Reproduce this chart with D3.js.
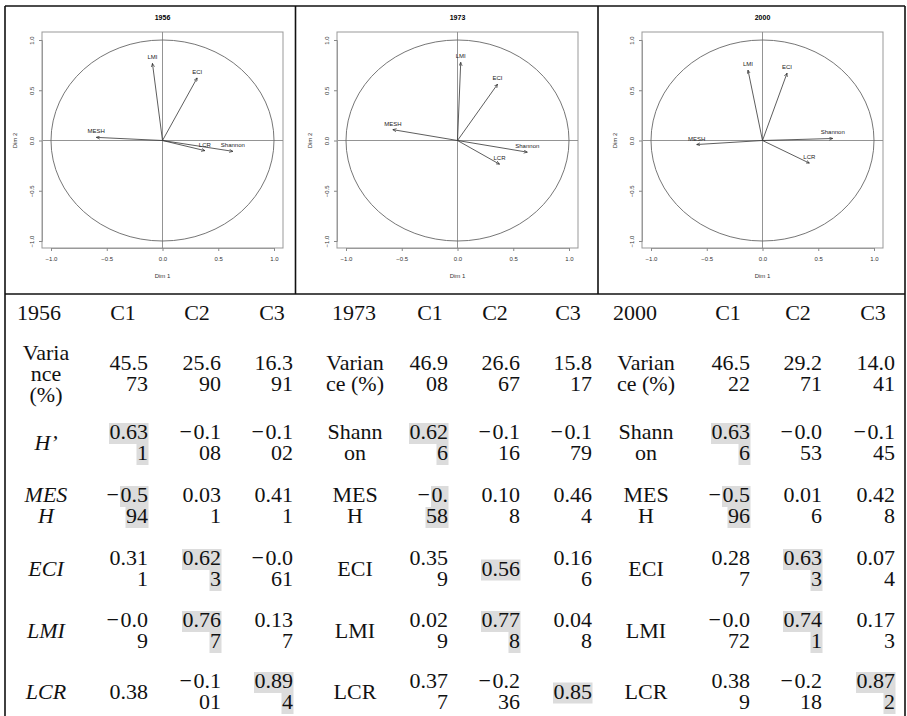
<!DOCTYPE html>
<html>
<head>
<meta charset="utf-8">
<script src="https://cdn.jsdelivr.net/npm/d3@7"></script>
<style>
body { margin: 0; background: #fff; }
</style>
</head>
<body>
<div id="chart"></div>
<script>
var width = 907;
var height = 716;

// PCA variable loadings as plotted (Dim 1, Dim 2)
var years = ["1956", "1973", "2000"];
var variables = ["LMI", "ECI", "MESH", "LCR", "Shannon"];
var dim1_1956 = [-0.09, 0.311, -0.594, 0.38, 0.631];
var dim2_1956 = [0.767, 0.623, 0.031, -0.101, -0.108];
var dim1_1973 = [0.029, 0.359, -0.58, 0.377, 0.626];
var dim2_1973 = [0.778, 0.56, 0.108, -0.236, -0.116];
var dim1_2000 = [-0.13, 0.22, -0.59, 0.42, 0.63];
var dim2_2000 = [0.70, 0.67, -0.04, -0.225, 0.02];
var axisTicks = [-1, -0.5, 0, 0.5, 1];

// table below the plots ("|" = line break as printed)
var colHeads = ["C1", "C2", "C3"];
var rowLabels1956 = ["Varia|nce|(%)", "H’", "MES|H", "ECI", "LMI", "LCR"];
var rowLabelsLater = ["Varian|ce (%)", "Shann|on", "MES|H", "ECI", "LMI", "LCR"];
var cells1956 = [["45.5|73", "25.6|90", "16.3|91"],
                 ["0.63|1", "−0.1|08", "−0.1|02"],
                 ["−0.5|94", "0.03|1", "0.41|1"],
                 ["0.31|1", "0.62|3", "−0.0|61"],
                 ["−0.0|9", "0.76|7", "0.13|7"],
                 ["0.38", "−0.1|01", "0.89|4"]];
var cells1973 = [["46.9|08", "26.6|67", "15.8|17"],
                 ["0.62|6", "−0.1|16", "−0.1|79"],
                 ["−0.|58", "0.10|8", "0.46|4"],
                 ["0.35|9", "0.56", "0.16|6"],
                 ["0.02|9", "0.77|8", "0.04|8"],
                 ["0.37|7", "−0.2|36", "0.85"]];
var cells2000 = [["46.5|22", "29.2|71", "14.0|41"],
                 ["0.63|6", "−0.0|53", "−0.1|45"],
                 ["−0.5|96", "0.01|6", "0.42|8"],
                 ["0.28|7", "0.63|3", "0.07|4"],
                 ["−0.0|72", "0.74|1", "0.17|3"],
                 ["0.38|9", "−0.2|18", "0.87|2"]];
// component column highlighted in each row (-1 = none)
var highlightCol = [-1, 0, 0, 1, 1, 2];

var svg = d3.select("#chart")
            .append("svg")
            .attr("width", width)
            .attr("height", height)
            .style("display", "block");

svg.append("defs")
    .append("marker")
    .attr("id", "arrow")
    .attr("viewBox", "0 0 10 10")
    .attr("refX", 9)
    .attr("refY", 5)
    .attr("markerWidth", 4)
    .attr("markerHeight", 4)
    .attr("markerUnits", "userSpaceOnUse")
    .attr("orient", "auto")
    .append("path")
    .attr("d", "M0,1 L9,5 L0,9")
    .attr("fill", "none")
    .attr("stroke", "#222")
    .attr("stroke-width", 1.5);

/****** correlation circles ******/
var panelOffsets = [0, 295, 600];
var panelData = [[dim1_1956, dim2_1956], [dim1_1973, dim2_1973], [dim1_2000, dim2_2000]];

panelData.forEach(function(p, i) {
    var off = panelOffsets[i];
    var xScale = d3.scaleLinear().domain([-1, 1]).range([51 + off, 274 + off]);
    var yScale = d3.scaleLinear().domain([-1, 1]).range([241, 40]);
    var g = svg.append("g").attr("font-family", "Liberation Sans, Arial, sans-serif");

    // plot box
    g.append("rect")
        .attr("x", 42 + off).attr("y", 32)
        .attr("width", 241).attr("height", 216)
        .attr("fill", "none").attr("stroke", "#999").attr("stroke-width", 1);

    // axes through origin
    g.append("line")
        .attr("x1", 42 + off).attr("x2", 283 + off)
        .attr("y1", yScale(0)).attr("y2", yScale(0))
        .attr("stroke", "#888").attr("stroke-width", 0.9);
    g.append("line")
        .attr("x1", xScale(0)).attr("x2", xScale(0))
        .attr("y1", 32).attr("y2", 248)
        .attr("stroke", "#888").attr("stroke-width", 0.9);

    // unit circle
    g.append("ellipse")
        .attr("cx", xScale(0)).attr("cy", yScale(0))
        .attr("rx", xScale(1) - xScale(0))
        .attr("ry", yScale(0) - yScale(1))
        .attr("fill", "none").attr("stroke", "#666").attr("stroke-width", 0.9);

    // axes
    var xAxis = d3.axisBottom(xScale).tickValues(axisTicks).tickSize(3).tickFormat(d3.format(".1f"));
    var yAxis = d3.axisLeft(yScale).tickValues(axisTicks).tickSize(3).tickFormat(d3.format(".1f"));

    var gx = g.append("g")
        .attr("transform", "translate(0,248)")
        .call(xAxis);
    gx.select(".domain").attr("stroke", "#999");
    gx.selectAll(".tick line").attr("stroke", "#888");
    gx.selectAll("text")
        .attr("font-size", 6).attr("fill", "#333")
        .attr("font-family", "Liberation Sans, Arial, sans-serif")
        .attr("y", 9);

    var gy = g.append("g")
        .attr("transform", "translate(" + (42 + off) + ",0)")
        .call(yAxis);
    gy.select(".domain").attr("stroke", "#999");
    gy.selectAll(".tick line").attr("stroke", "#888");
    gy.selectAll("text")
        .attr("font-size", 6).attr("fill", "#333")
        .attr("font-family", "Liberation Sans, Arial, sans-serif")
        .attr("x", null).attr("dy", null)
        .attr("text-anchor", "middle")
        .attr("transform", "translate(-8,0) rotate(-90)");

    // titles
    g.append("text")
        .attr("x", xScale(0)).attr("y", 19.5)
        .attr("text-anchor", "middle")
        .attr("font-size", 7).attr("font-weight", "bold")
        .text(years[i]);
    g.append("text")
        .attr("x", xScale(0)).attr("y", 278)
        .attr("text-anchor", "middle")
        .attr("font-size", 6).attr("fill", "#333")
        .text("Dim 1");
    g.append("text")
        .attr("transform", "translate(" + (17 + off) + "," + yScale(0) + ") rotate(-90)")
        .attr("text-anchor", "middle")
        .attr("font-size", 6).attr("fill", "#333")
        .text("Dim 2");

    // arrows
    g.selectAll(".arrow")
        .data(variables)
        .enter()
        .append("line")
        .attr("class", "arrow")
        .attr("x1", xScale(0)).attr("y1", yScale(0))
        .attr("x2", function(d, k) { return xScale(p[0][k]); })
        .attr("y2", function(d, k) { return yScale(p[1][k]); })
        .attr("stroke", "#333").attr("stroke-width", 0.8)
        .attr("marker-end", "url(#arrow)");

    g.selectAll(".varlabel")
        .data(variables)
        .enter()
        .append("text")
        .attr("class", "varlabel")
        .attr("x", function(d, k) { return xScale(p[0][k]); })
        .attr("y", function(d, k) { return yScale(p[1][k]) - 4; })
        .attr("text-anchor", "middle")
        .attr("font-size", 6).attr("fill", "#222")
        .text(function(d) { return d; });
});

/****** frame lines ******/
var frame = [[5, 6, 905, 6], [5, 294, 905, 294], [5, 6, 5, 716], [905, 6, 905, 716],
             [295.5, 6, 295.5, 294], [598, 6, 598, 294]];
svg.selectAll(".frame")
    .data(frame)
    .enter()
    .append("line")
    .attr("class", "frame")
    .attr("x1", function(d) { return d[0]; })
    .attr("y1", function(d) { return d[1]; })
    .attr("x2", function(d) { return d[2]; })
    .attr("y2", function(d) { return d[3]; })
    .attr("stroke", "#111")
    .attr("stroke-width", 1.6);

/****** table ******/
var tbl = svg.append("g")
    .attr("font-family", "Liberation Serif, Times New Roman, serif")
    .attr("font-size", 22)
    .attr("fill", "#111");

var lineH = 21;
var rowBase = [370, 439, 502, 565, 627, 688];
var headerBase = 320;
var yearLeft = [17, 332, 613];
var labelCenter = [46, 355, 646];
var headCenter = [[123, 197, 272], [430, 495, 568], [728, 798, 873]];
var numRight = [[148, 221, 293], [448, 520, 592], [750, 822, 895]];
var allCells = [cells1956, cells1973, cells2000];

years.forEach(function(yr, b) {
    tbl.append("text")
        .attr("x", yearLeft[b]).attr("y", headerBase)
        .text(yr);
    colHeads.forEach(function(c, j) {
        tbl.append("text")
            .attr("x", headCenter[b][j]).attr("y", headerBase)
            .attr("text-anchor", "middle")
            .text(c);
    });

    var labels = b == 0 ? rowLabels1956 : rowLabelsLater;
    labels.forEach(function(lab, r) {
        var parts = lab.split("|");
        var mid = rowBase[r] + lineH / 2;
        var y0 = mid - (parts.length - 1) * lineH / 2;
        parts.forEach(function(t, k) {
            tbl.append("text")
                .attr("x", labelCenter[b]).attr("y", y0 + k * lineH)
                .attr("text-anchor", "middle")
                .attr("font-style", (b == 0 && r > 0) ? "italic" : null)
                .text(t);
        });
    });

    allCells[b].forEach(function(row, r) {
        row.forEach(function(val, j) {
            var parts = val.split("|");
            var mid = rowBase[r] + lineH / 2;
            var y0 = mid - (parts.length - 1) * lineH / 2;
            var hl = highlightCol[r] == j;
            parts.forEach(function(t, k) {
                var neg = t.charAt(0) == "−";
                var digits = neg ? t.slice(1) : t;
                var yy = y0 + k * lineH;
                var bg = tbl.append("rect").attr("fill", "#dcdcdc");
                var txt = tbl.append("text")
                    .attr("x", numRight[b][j]).attr("y", yy)
                    .attr("text-anchor", "end")
                    .text(digits);
                var len = txt.node().getComputedTextLength();
                if (hl) {
                    bg.attr("x", numRight[b][j] - len - 0.5).attr("y", yy - 16)
                      .attr("width", len + 1).attr("height", lineH);
                } else {
                    bg.remove();
                }
                if (neg) {
                    tbl.append("text")
                        .attr("x", numRight[b][j] - len - 1.5).attr("y", yy)
                        .attr("text-anchor", "end")
                        .text("−");
                }
            });
        });
    });
});
</script>
</body>
</html>
